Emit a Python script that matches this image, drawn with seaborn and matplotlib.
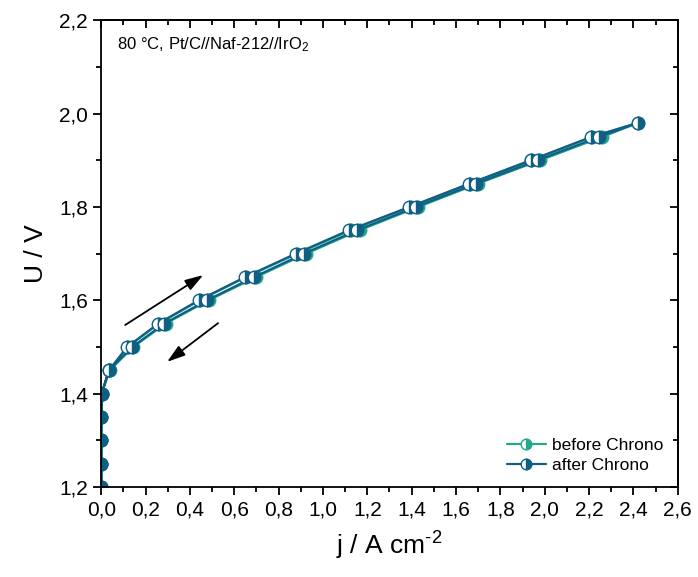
import matplotlib
matplotlib.use("Agg")
import matplotlib.pyplot as plt
import seaborn as sns
import pandas as pd
from matplotlib.ticker import MultipleLocator, FuncFormatter

sns.set_theme(style="ticks")
plt.rcParams['font.family'] = ['Liberation Sans', 'DejaVu Sans']
plt.rcParams['text.color'] = 'black'
plt.rcParams['axes.labelcolor'] = 'black'
plt.rcParams['xtick.color'] = 'black'
plt.rcParams['ytick.color'] = 'black'
plt.rcParams['mathtext.fontset'] = 'custom'
plt.rcParams['mathtext.rm'] = 'Liberation Sans'
plt.rcParams['mathtext.it'] = 'Liberation Sans'

# Data: voltage steps (forward sweep up, then backward sweep down)
u_forward = [1.20, 1.25, 1.30, 1.35, 1.40, 1.45, 1.50, 1.55, 1.60, 1.65, 1.70, 1.75, 1.80, 1.85, 1.90, 1.95, 1.98]
j_before_fwd = [0.0, 0.0, 0.0, 0.0, 0.002, 0.035, 0.12, 0.26, 0.445, 0.655, 0.885, 1.125, 1.395, 1.665, 1.94, 2.215, 2.42]
j_after_fwd = [0.0, 0.0, 0.0, 0.0, 0.002, 0.035, 0.117, 0.257, 0.44, 0.65, 0.878, 1.117, 1.39, 1.66, 1.937, 2.21, 2.42]
u_backward = [1.95, 1.90, 1.85, 1.80, 1.75, 1.70, 1.65, 1.60, 1.55, 1.50, 1.45, 1.40, 1.35, 1.30, 1.25, 1.20]
j_before_bwd = [2.26, 1.98, 1.70, 1.43, 1.165, 0.925, 0.70, 0.485, 0.29, 0.145, 0.038, 0.002, 0.0, 0.0, 0.0, 0.0]
j_after_bwd = [2.245, 1.968, 1.69, 1.42, 1.153, 0.914, 0.69, 0.477, 0.284, 0.14, 0.035, 0.002, 0.0, 0.0, 0.0, 0.0]

series_names = ["before Chrono", "after Chrono"]
colors = {"before Chrono": "#22A88A", "after Chrono": "#0F5F84"}

rows = []
for name, jf, jb in [("before Chrono", j_before_fwd, j_before_bwd),
                     ("after Chrono", j_after_fwd, j_after_bwd)]:
    for i, (j, u) in enumerate(zip(jf + jb, u_forward + u_backward)):
        rows.append({"series": name, "j": j, "U": u, "order": i})
df = pd.DataFrame(rows)

fig, ax = plt.subplots(figsize=(6.98, 5.77), dpi=100)
fig.subplots_adjust(left=0.145, right=0.971, top=0.965, bottom=0.156)

for name in series_names:
    d = df[df.series == name].sort_values("order")
    sns.lineplot(data=d, x="j", y="U", sort=False, estimator=None, ax=ax,
                 color=colors[name], lw=1.6, label=name, marker="o", markersize=9,
                 fillstyle="right", markerfacecoloralt="white",
                 markeredgecolor=colors[name], markeredgewidth=1.0,
                 markerfacecolor=colors[name])

ax.set_xlim(0, 2.6)
ax.set_ylim(1.2, 2.2)
ax.xaxis.set_major_locator(MultipleLocator(0.2))
ax.xaxis.set_minor_locator(MultipleLocator(0.1))
ax.yaxis.set_major_locator(MultipleLocator(0.2))
ax.yaxis.set_minor_locator(MultipleLocator(0.1))
fmt = FuncFormatter(lambda v, p: f"{v:.1f}".replace(".", ","))
ax.xaxis.set_major_formatter(fmt)
ax.yaxis.set_major_formatter(fmt)

ax.tick_params(axis="both", which="major", labelsize=15, length=6, width=1.3,
               direction="out", top=False, right=False, color="black", labelcolor="black")
ax.tick_params(axis="both", which="minor", length=3.5, width=1.3,
               direction="out", top=False, right=False, color="black")
# mirrored inward ticks on top/right
secx = ax.secondary_xaxis("top")
secx.xaxis.set_major_locator(MultipleLocator(0.2))
secx.xaxis.set_minor_locator(MultipleLocator(0.1))
secx.tick_params(which="major", direction="in", length=6, width=1.3, labeltop=False)
secx.tick_params(which="minor", direction="in", length=3.5, width=1.3)
secy = ax.secondary_yaxis("right")
secy.yaxis.set_major_locator(MultipleLocator(0.2))
secy.yaxis.set_minor_locator(MultipleLocator(0.1))
secy.tick_params(which="major", direction="in", length=6, width=1.3, labelright=False)
secy.tick_params(which="minor", direction="in", length=3.5, width=1.3)
for s in list(ax.spines.values()) + [secx.spines["top"], secy.spines["right"]]:
    s.set_linewidth(1.3)
    s.set_color("black")

ax.set_xlabel("j / A cm$^{\\text{-}2}$", fontsize=19, labelpad=8)
ax.set_ylabel("U / V", fontsize=19, labelpad=8)

ax.text(0.028, 0.947, "80 °C, Pt/C//Naf-212//IrO$_2$", transform=ax.transAxes,
        fontsize=12, ha="left", va="center")

arrow_style = "-|>,head_length=1.1,head_width=0.35"
ax.annotate("", xy=(0.46, 1.654), xytext=(0.108, 1.547),
            arrowprops=dict(arrowstyle=arrow_style, color="black", lw=1.3,
                            mutation_scale=10, shrinkA=0, shrinkB=0))
ax.annotate("", xy=(0.297, 1.468), xytext=(0.527, 1.551),
            arrowprops=dict(arrowstyle=arrow_style, color="black", lw=1.3,
                            mutation_scale=10, shrinkA=0, shrinkB=0))

leg = ax.legend(loc="lower right", frameon=False, fontsize=12.5, handlelength=2.2,
                borderaxespad=0.4, labelspacing=0.3, handletextpad=0.4, markerscale=0.85)

fig.savefig("out.png", dpi=100)
